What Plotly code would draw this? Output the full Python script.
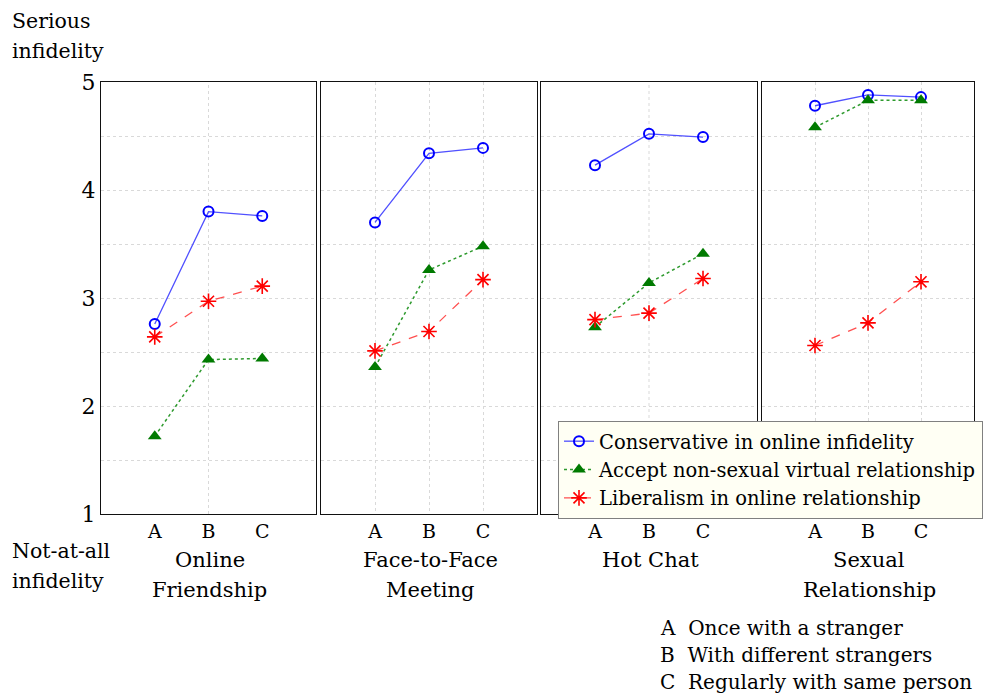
import plotly.graph_objects as go

# ---- data ----
panel_lines = [["Online", "Friendship"], ["Face-to-Face", "Meeting"], ["Hot Chat"], ["Sexual", "Relationship"]]
conditions = ["A", "B", "C"]
cond_pos = [1, 2, 3]
series_names = ["Conservative in online infidelity",
                "Accept non-sexual virtual relationship",
                "Liberalism in online relationship"]
conservative = [[2.76, 3.80, 3.76], [3.70, 4.34, 4.39], [4.23, 4.52, 4.49], [4.78, 4.88, 4.86]]
accept = [[1.72, 2.43, 2.44], [2.36, 3.26, 3.48], [2.73, 3.14, 3.41], [4.58, 4.83, 4.83]]
liberal = [[2.64, 2.97, 3.11], [2.51, 2.69, 3.17], [2.80, 2.86, 3.18], [2.56, 2.77, 3.15]]
y_ticks = [1, 1.5, 2, 2.5, 3, 3.5, 4, 4.5, 5]
y_ticktext = ["1", "", "2", "", "3", "", "4", "", "5"]
top_label = ["Serious", "infidelity"]
bottom_label = ["Not-at-all", "infidelity"]
notes = ["A  Once with a stranger", "B  With different strangers", "C  Regularly with same person"]

FONT = "DejaVu Serif"
OFF = 8  # page body margin
W, H = 992 - OFF, 696 - OFF


def px(x):
    return (x - OFF) / W


def py(y):
    return 1 - (y - OFF) / H


panel_px = [(101, 316), (321, 537), (541, 757), (762, 974)]
y_top_px, y_bot_px = 82, 514
full_grid = [False, True, False, True]

styles = [
    dict(line=dict(color="#5050ff", width=1.3, dash="solid"),
         marker=dict(symbol="circle-open", size=10, color="#0000ff", line=dict(width=2, color="#0000ff"))),
    dict(line=dict(color="#2e9a2e", width=1.5, dash="dot"),
         marker=dict(symbol="triangle-up", size=12, color="#007a00", line=dict(width=0))),
    dict(line=dict(color="#ff5050", width=1.3, dash="dash"),
         marker=dict(symbol="asterisk-open", size=13, color="#ff0000", line=dict(width=1.6, color="#ff0000"))),
]
all_series = [conservative, accept, liberal]

fig = go.Figure()
layout = dict(width=W, height=H, margin=dict(l=0, r=0, t=0, b=0, autoexpand=False),
              paper_bgcolor="white", plot_bgcolor="white",
              font=dict(family=FONT, color="black"))
shapes = []
annotations = []


def label(text, x, y, size, anchor="left"):
    return dict(text=text, x=px(x), y=py(y), xref="paper", yref="paper",
                xanchor=anchor, yanchor="middle", showarrow=False,
                font=dict(family=FONT, size=size, color="black"))


for p in range(4):
    sx = "" if p == 0 else str(p + 1)
    for s in range(3):
        fig.add_trace(go.Scatter(
            x=cond_pos, y=all_series[s][p], mode="lines+markers",
            name=series_names[s], legendgroup=series_names[s], showlegend=(p == 0),
            xaxis="x" + sx, yaxis="y" + sx, line=styles[s]["line"], marker=styles[s]["marker"],
        ))
    x0, x1 = panel_px[p]
    layout["xaxis" + sx] = dict(
        domain=[px(x0), px(x1)], range=[0, 4], tickvals=cond_pos, ticktext=conditions,
        showgrid=full_grid[p], gridcolor="#d9d9d9", griddash="dot", gridwidth=1,
        zeroline=False, showline=True, mirror=True, linecolor="#111111", linewidth=1.2,
        ticks="", tickfont=dict(family=FONT, size=19), anchor="y" + sx, fixedrange=True,
        automargin=False,
    )
    layout["yaxis" + sx] = dict(
        domain=[py(y_bot_px), py(y_top_px)], range=[1, 5],
        tickvals=y_ticks, ticktext=y_ticktext, showticklabels=(p == 0),
        showgrid=True, gridcolor="#d9d9d9", griddash="dot", gridwidth=1,
        zeroline=False, showline=True, mirror=True, linecolor="#111111", linewidth=1.2,
        ticks="", tickfont=dict(family=FONT, size=22), anchor="x" + sx, fixedrange=True,
        automargin=False,
    )
    if not full_grid[p]:
        shapes.append(dict(type="line", xref="x" + sx, yref=("y" + sx + " domain"),
                           x0=2, x1=2, y0=0, y1=1, layer="below",
                           line=dict(color="#d9d9d9", width=1, dash="dot")))
    for i, line in enumerate(panel_lines[p]):
        annotations.append(label(line, (x0 + x1) / 2 + 1, 560 + 30 * i, 21, "center"))

for i, line in enumerate(top_label):
    annotations.append(label(line, 10, 21 + 30 * i, 20.5))
for i, line in enumerate(bottom_label):
    annotations.append(label(line, 10, 551 + 30 * i, 20.5))
for i, line in enumerate(notes):
    annotations.append(label(line, 658, 628 + 27 * i, 20))

layout["shapes"] = shapes
layout["annotations"] = annotations
layout["legend"] = dict(x=px(558), y=py(421), xanchor="left", yanchor="top",
                        bgcolor="#fffff4", bordercolor="#808080", borderwidth=1,
                        font=dict(family=FONT, size=19.5), tracegroupgap=0,
                        itemwidth=30)
fig.update_layout(**layout)
fig.write_html("out.html")
